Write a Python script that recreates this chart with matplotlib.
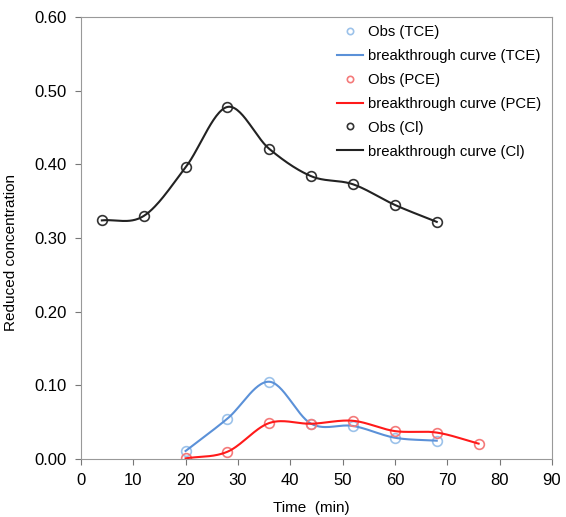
import numpy as np
import matplotlib
matplotlib.use("Agg")
import matplotlib.pyplot as plt

plt.rcParams['font.family'] = ['Liberation Sans', 'DejaVu Sans']

# observed data
t_cl = [4, 12, 20, 28, 36, 44, 52, 60, 68]
c_cl = [0.324, 0.330, 0.396, 0.478, 0.421, 0.384, 0.373, 0.345, 0.322]

t_tce = [20, 28, 36, 44, 52, 60, 68]
c_tce = [0.011, 0.055, 0.105, 0.048, 0.045, 0.029, 0.025]

t_pce = [20, 28, 36, 44, 52, 60, 68, 76]
c_pce = [0.001, 0.010, 0.049, 0.048, 0.052, 0.038, 0.036, 0.021]

xticks = list(range(0, 91, 10))
yticks = [0.0, 0.1, 0.2, 0.3, 0.4, 0.5, 0.6]


def smooth(x, y, n=30):
    # catmull-rom through the observed points
    x = np.asarray(x, float)
    y = np.asarray(y, float)
    px = np.concatenate([[2*x[0]-x[1]], x, [2*x[-1]-x[-2]]])
    py = np.concatenate([[2*y[0]-y[1]], y, [2*y[-1]-y[-2]]])
    xs, ys = [], []
    s = np.linspace(0, 1, n, endpoint=False)
    for i in range(1, len(px)-2):
        for p, out in ((px, xs), (py, ys)):
            p0, p1, p2, p3 = p[i-1], p[i], p[i+1], p[i+2]
            out.extend(0.5*((2*p1) + (-p0+p2)*s + (2*p0-5*p1+4*p2-p3)*s**2
                            + (-p0+3*p1-3*p2+p3)*s**3))
    xs.append(x[-1])
    ys.append(y[-1])
    return np.array(xs), np.array(ys)


fig = plt.figure(figsize=(5.66, 5.17), dpi=100)
ax = fig.add_axes([0.143, 0.112, 0.832, 0.855])

series = [
    (t_tce, c_tce, '#9cc2ea', '#5b91d8', 'TCE'),
    (t_pce, c_pce, '#f47a7a', '#ff1a1a', 'PCE'),
    (t_cl, c_cl, '#333333', '#222222', 'Cl'),
]
for t, c, mc, lc, name in series:
    ax.plot(t, c, 'o', ms=7, mfc='none', mec=mc, mew=1.2, label='Obs (%s)' % name)
    xs, ys = smooth(t, c)
    ax.plot(xs, ys, '-', color=lc, lw=1.5, label='breakthrough curve (%s)' % name)

ax.set_xlim(0, 90)
ax.set_ylim(0, 0.6)
ax.set_xticks(xticks)
ax.set_yticks(yticks)
ax.set_yticklabels(['%.2f' % v for v in yticks])
ax.tick_params(direction='out', length=4, labelsize=12, color='#777777', pad=6)
for sp in ax.spines.values():
    sp.set_color('#999999')

ax.set_xlabel('Time  (min)', fontsize=11)
ax.set_ylabel('Reduced concentration', fontsize=11)
ax.xaxis.set_label_coords(0.489, -0.095)
ax.yaxis.set_label_coords(-0.133, 0.468)

leg = ax.legend(loc='upper left', bbox_to_anchor=(0.543, 0.981), borderaxespad=0,
                borderpad=0, frameon=False, fontsize=10.7, markerscale=0.65,
                handlelength=1.8, handletextpad=0.3, labelspacing=0.66)

fig.savefig('out.png', dpi=100)
